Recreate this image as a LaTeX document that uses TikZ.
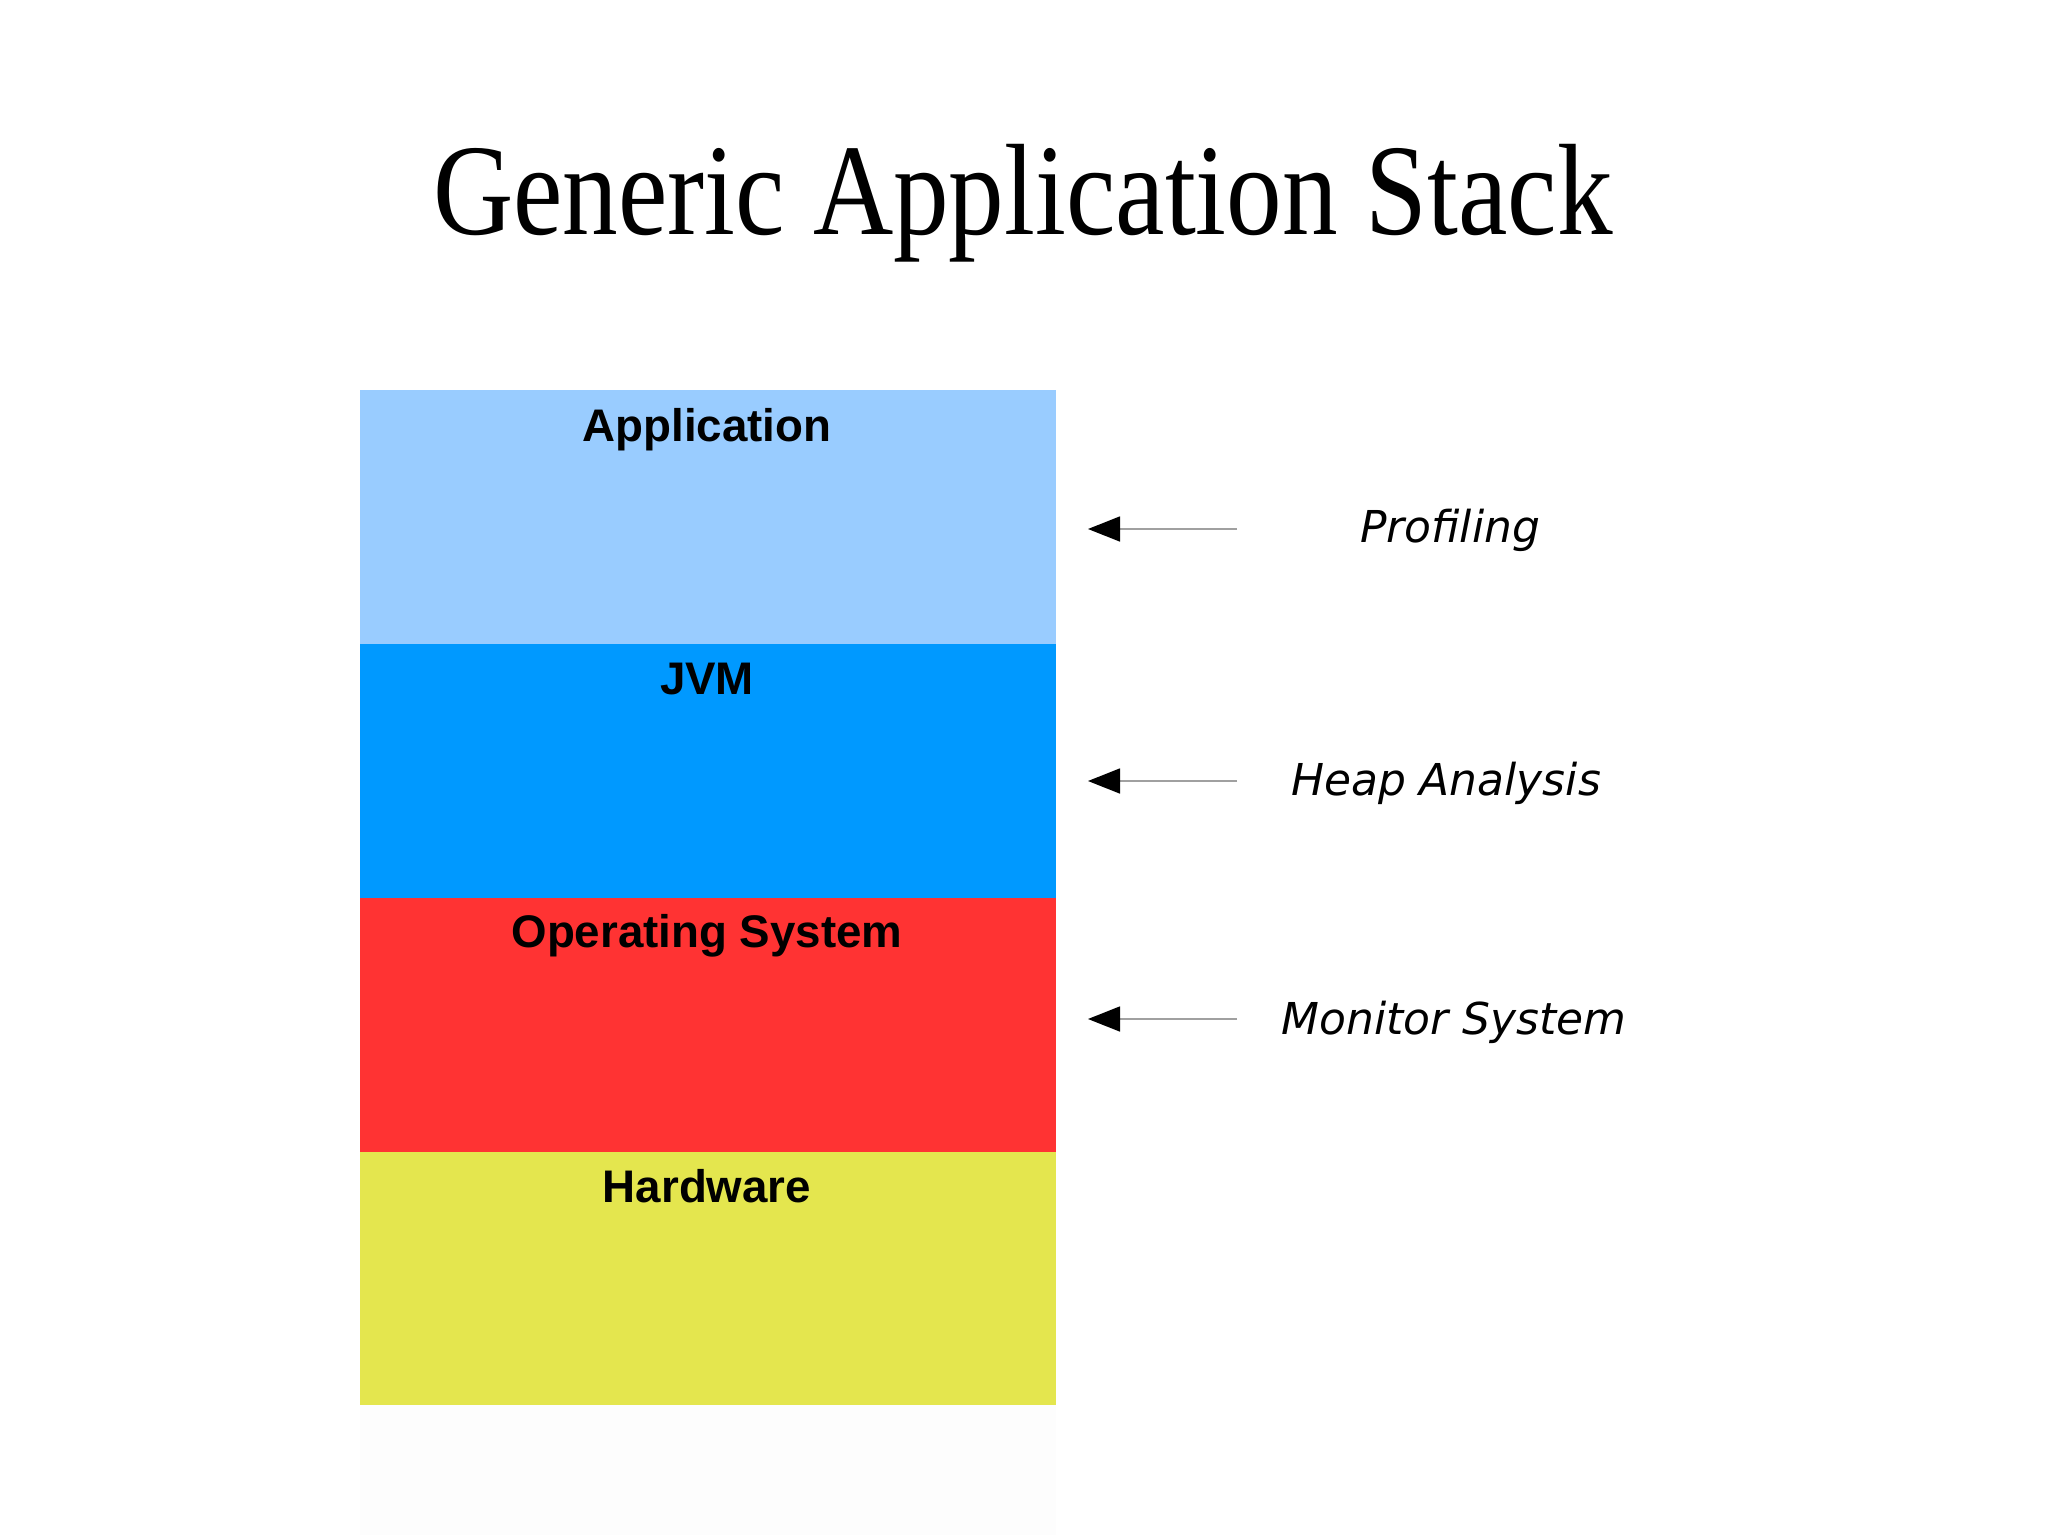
\documentclass[tikz,border=0pt]{standalone}
\usepackage{fontspec}
\setmainfont{Liberation Serif}
\newfontfamily\boxfont{Liberation Sans}
\newfontfamily\notefont{DejaVu Sans}
\usetikzlibrary{arrows.meta}
\definecolor{appblue}{HTML}{99CCFF}
\definecolor{jvmblue}{HTML}{0099FF}
\definecolor{osred}{HTML}{FF3333}
\definecolor{hwyellow}{HTML}{E4E64E}
\definecolor{shade}{HTML}{FDFDFD}
\definecolor{linegray}{HTML}{A0A0A0}
\tikzset{
  layer/.style={draw=none, minimum width=6.96cm, anchor=north west, inner sep=0pt},
  layertext/.style={font=\boxfont\bfseries\fontsize{13}{15}\selectfont, anchor=base, inner sep=0pt},
  note/.style={font=\notefont\itshape\fontsize{12.5}{15}\selectfont, anchor=base, inner sep=0pt},
  pointer/.style={draw=linegray, line width=0.45pt, -{Triangle[length=3.2mm,width=2.5mm,color=black]}}
}
\begin{document}
\begin{tikzpicture}
\useasboundingbox (0,0) rectangle (20.48,-15.35);
\fill[white] (0,0) rectangle (20.48,-15.35);
% title
\node[anchor=base, inner sep=0pt, xscale=0.855, font=\fontsize{37}{40}\selectfont] (title) at (10.23,-2.34) {Generic Application Stack};
% layers
\node[layer, fill=shade, minimum height=1.31cm] (base) at (3.59,-14.04) {};
\node[layer, fill=appblue, minimum height=2.55cm] (app) at (3.59,-3.89) {};
\node[layer, fill=jvmblue, minimum height=2.54cm] (jvm) at (3.59,-6.43) {};
\node[layer, fill=osred, minimum height=2.55cm] (os) at (3.59,-8.97) {};
\node[layer, fill=hwyellow, minimum height=2.53cm] (hw) at (3.59,-11.51) {};
\node[layertext] (appt) at (7.07,-4.41) {Application};
\node[layertext] (jvmt) at (7.07,-6.94) {JVM};
\node[layertext] (ost) at (7.07,-9.47) {Operating System};
\node[layertext] (hwt) at (7.07,-12.02) {Hardware};
% notes
\node[note] (prof) at (14.50,-5.42) {Profiling};
\node[note] (heap) at (14.46,-7.95) {Heap Analysis};
\node[note] (mon) at (14.54,-10.34) {Monitor System};
\coordinate (s1) at (12.37,-5.29);
\coordinate (e1) at (10.88,-5.29);
\coordinate (s2) at (12.37,-7.81);
\coordinate (e2) at (10.88,-7.81);
\coordinate (s3) at (12.37,-10.19);
\coordinate (e3) at (10.88,-10.19);
\draw[pointer] (s1) -- (e1);
\draw[pointer] (s2) -- (e2);
\draw[pointer] (s3) -- (e3);
\end{tikzpicture}
\end{document}
